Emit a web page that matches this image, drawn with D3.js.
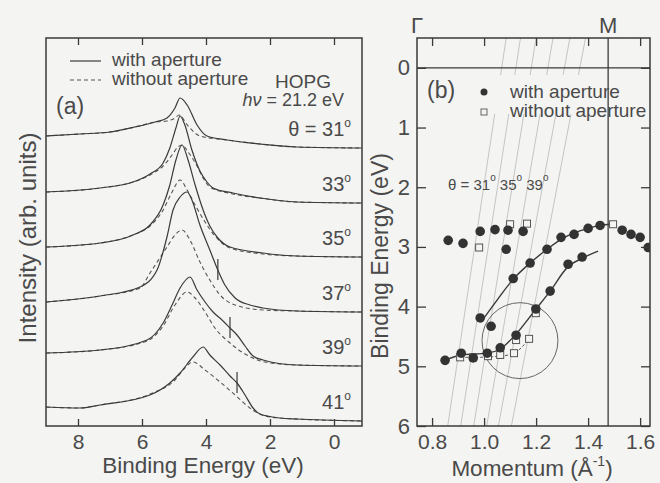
<!DOCTYPE html>
<html><head><meta charset="utf-8">
<script src="https://cdn.jsdelivr.net/npm/d3@7"></script>
<style>
body{margin:0;background:#f4f4f2;}
svg{display:block;}
text{font-family:"Liberation Sans",Arial,Helvetica,sans-serif;fill:#4a4a4a;}
</style></head><body>
<svg id="c" width="660" height="483"></svg>
<script>
// ---------- Panel (a): EDC spectra, [binding energy (eV), intensity (arb.)] ----------
const angles = ["31","33","35","37","39","41"];
const withAp31 = [[9.00,290],[7.94,292],[7.00,294],[6.22,299],[5.59,304],[5.22,308],[4.97,318],[4.81,328],[4.59,321],[4.28,301],[3.97,290],[3.34,286],[2.31,282],[1.16,279],[-0.87,278]];
const noAp31   = [[9.00,290],[7.94,292],[7.00,294],[6.22,299],[5.59,304],[5.22,305],[4.97,308],[4.84,311],[4.56,300],[4.19,290],[3.34,286],[2.31,282],[1.16,279],[-0.87,278]];
const withAp33 = [[9.00,234],[7.31,238],[6.28,244],[5.75,252],[5.34,263],[5.13,278],[4.94,298],[4.81,310],[4.66,301],[4.44,276],[4.19,255],[3.97,244],[3.78,238],[3.16,233],[2.31,228],[1.16,224],[-0.87,223]];
const noAp33   = [[9.00,234],[7.31,238],[6.28,244],[5.75,251],[5.34,260],[5.06,271],[4.88,279],[4.75,281],[4.56,274],[4.28,260],[4.09,248],[3.88,239],[3.16,232],[2.31,228],[1.16,224],[-0.87,223]];
const withAp35 = [[9.00,179],[7.31,183],[6.28,191],[5.75,201],[5.34,221],[5.13,241],[4.94,266],[4.75,281],[4.56,266],[4.34,241],[4.09,216],[3.88,200],[3.63,188],[3.25,179],[2.22,173],[1.16,170],[-0.87,169]];
const noAp35   = [[9.00,179],[7.31,183],[6.28,191],[5.75,200],[5.34,216],[5.06,234],[4.81,246],[4.59,236],[4.34,221],[4.03,204],[3.72,190],[3.25,178],[2.22,172],[1.16,170],[-0.87,169]];
const withAp37 = [[9.00,124],[7.31,130],[6.06,139],[5.53,156],[5.22,189],[5.03,216],[4.81,229],[4.59,234],[4.44,226],[4.19,201],[3.88,176],[3.63,156],[3.41,141],[3.09,128],[2.63,121],[2.22,118],[1.16,115],[-0.87,114]];
const noAp37   = [[9.00,124],[7.31,130],[6.06,138],[5.75,153],[5.22,179],[4.97,191],[4.75,196],[4.50,186],[4.19,164],[3.88,146],[3.56,131],[3.09,121],[2.22,116],[1.16,115],[-0.87,114]];
const withAp39 = [[9.00,73],[7.31,76],[5.84,86],[5.34,103],[5.06,121],[4.81,138],[4.50,149],[4.28,136],[4.03,124],[3.78,114],[3.50,106],[3.25,98],[3.03,91],[2.78,80],[2.53,70],[2.22,66],[1.16,61],[-0.87,60]];
const noAp39   = [[9.00,73],[7.31,76],[5.84,85],[5.34,100],[4.97,121],[4.59,134],[4.34,128],[4.03,114],[3.72,98],[3.25,83],[2.78,72],[2.16,64],[1.16,61],[-0.87,60]];
const withAp41 = [[9.00,19],[7.94,18],[7.31,21],[5.75,31],[5.13,43],[4.81,53],[4.41,69],[4.09,79],[3.88,71],[3.56,61],[3.25,50],[3.03,43],[2.78,31],[2.53,18],[2.31,12],[1.69,8],[1.16,7],[-0.87,5]];
const noAp41   = [[9.00,19],[7.94,18],[7.31,21],[5.75,32],[4.97,46],[4.66,58],[4.41,64],[4.03,56],[3.56,44],[3.09,31],[2.63,18],[2.25,11],[1.69,8],[-0.87,5]];
const withApSpectra = [withAp31, withAp33, withAp35, withAp37, withAp39, withAp41];
const noApSpectra   = [noAp31, noAp33, noAp35, noAp37, noAp39, noAp41];
const kinkMarks = [[3.63,156],[3.25,98],[3.03,43]];   // vertical bars on 37°,39°,41°
const beTicks = [8,6,4,2,0];

// ---------- Panel (b): band dispersion, [momentum (1/Å), binding energy (eV)] ----------
const withApPts = [[0.862,2.89],[0.919,2.94],[0.985,2.74],[1.042,2.71],[1.092,2.72],[1.150,2.74],[1.085,3.04],
  [0.985,4.19],[1.027,4.33],[1.112,3.53],[1.177,3.27],[1.242,3.04],[1.296,2.84],[1.346,2.79],[1.400,2.69],[1.446,2.64],[1.531,2.72],[1.565,2.79],[1.600,2.84],[1.631,3.01],
  [1.199,4.04],[1.254,3.74],[1.323,3.29],[1.377,3.17],[1.123,4.48],[1.062,4.69],
  [0.850,4.90],[0.912,4.78],[0.958,4.86],[1.012,4.78]];
const noApPts = [[0.981,3.01],[1.100,2.62],[1.165,2.61],[1.496,2.62],[1.199,4.11],[1.123,4.56],[1.173,4.54],[0.908,4.85],[0.958,4.85],[1.015,4.83],[1.062,4.81],[1.115,4.78]];
const fitUpper = [[0.988,4.26],[1.05,3.89],[1.112,3.54],[1.177,3.27],[1.242,3.04],[1.30,2.86],[1.35,2.76],[1.40,2.69],[1.446,2.64],[1.49,2.62]];
const fitLower = [[0.85,4.90],[0.912,4.81],[1.012,4.78],[1.062,4.71],[1.123,4.46],[1.196,4.06],[1.254,3.74],[1.323,3.33],[1.377,3.19],[1.438,3.07]];
const fitNoAp  = [[0.908,4.85],[0.958,4.85],[1.062,4.83],[1.115,4.78],[1.173,4.54]];
const thetaLines = [31,33,35,37,39,41];
const thetaKTop = [1.085,1.14,1.20,1.265,1.33,1.39];     // k at EB = -0.5
const thetaKBottom = [0.86,0.91,0.96,1.01,1.055,1.105];  // k at EB = 6
const kM = 1.477;
const circleCenter = [1.138,4.57], circleRadiusK = 0.146;
const kTicks = [0.8,1.0,1.2,1.4,1.6];
const ebTicks = [0,1,2,3,4,5,6];

// ---------- drawing ----------
const svg = d3.select("#c");
svg.append("rect").attr("width",660).attr("height",483).attr("fill","#f4f4f2");
const ink = "#3a3a3a";

// ===== Panel A =====
const A = {l:46, r:362, t:38, b:426};
const xA = d3.scaleLinear().domain([9, -0.875]).range([A.l, A.r]);
const yA = d3.scaleLinear().domain([0, 388]).range([A.b, A.t]);
svg.append("clipPath").attr("id","clipA").append("rect").attr("x",A.l).attr("y",A.t).attr("width",A.r-A.l).attr("height",A.b-A.t);
const gA = svg.append("g");
const lineA = d3.line().x(d=>xA(d[0])).y(d=>yA(d[1])).curve(d3.curveMonotoneX);
const gSpec = gA.append("g").attr("clip-path","url(#clipA)");
noApSpectra.forEach(s=>{
  gSpec.append("path").attr("d",lineA(s)).attr("fill","none").attr("stroke","#555").attr("stroke-width",1.1).attr("stroke-dasharray","4,3");
});
withApSpectra.forEach(s=>{
  gSpec.append("path").attr("d",lineA(s)).attr("fill","none").attr("stroke",ink).attr("stroke-width",1.2);
});
kinkMarks.forEach(m=>{
  gSpec.append("line").attr("x1",xA(m[0])).attr("x2",xA(m[0])).attr("y1",yA(m[1])-11).attr("y2",yA(m[1])+10).attr("stroke",ink).attr("stroke-width",1.2);
});
// axes
const axA = gA.append("g").attr("transform",`translate(0,${A.b})`).call(d3.axisBottom(xA).tickValues(beTicks).tickSize(-7).tickPadding(8).tickFormat(d3.format("d")));
const axAt = gA.append("g").attr("transform",`translate(0,${A.t})`).call(d3.axisTop(xA).tickValues(beTicks).tickSize(-7).tickFormat(""));
[axA,axAt].forEach(a=>{a.select(".domain").remove(); a.selectAll("line").attr("stroke",ink).attr("stroke-width",1.3);});
axA.selectAll("text").style("font-size","21px").attr("fill","#4a4a4a");
gA.append("rect").attr("x",A.l).attr("y",A.t).attr("width",A.r-A.l).attr("height",A.b-A.t).attr("fill","none").attr("stroke",ink).attr("stroke-width",1.5);
// angle labels
withApSpectra.forEach((s,i)=>{
  const t = gA.append("text").attr("x",351).attr("y",yA(s[s.length-1][1])-12).attr("text-anchor","end").style("font-size","20px");
  if(i===0) t.append("tspan").text("θ = ");
  t.append("tspan").text(angles[i]);
  t.append("tspan").attr("dy",-9).style("font-size","12px").text("o");
});
// legend & annotations
gA.append("line").attr("x1",70).attr("x2",101).attr("y1",61).attr("y2",61).attr("stroke",ink).attr("stroke-width",1.2);
gA.append("line").attr("x1",70).attr("x2",101).attr("y1",80).attr("y2",80).attr("stroke","#555").attr("stroke-width",1.1).attr("stroke-dasharray","4,3");
gA.append("text").attr("x",112).attr("y",66).style("font-size","19px").text("with aperture");
gA.append("text").attr("x",112).attr("y",85).style("font-size","19px").text("without aperture");
gA.append("text").attr("x",275).attr("y",88).style("font-size","19px").text("HOPG");
const hv = gA.append("text").attr("x",344).attr("y",106).attr("text-anchor","end").style("font-size","18px");
hv.append("tspan").style("font-style","italic").text("hν");
hv.append("tspan").text(" = 21.2 eV");
gA.append("text").attr("x",56).attr("y",114).style("font-size","23px").text("(a)");
gA.append("text").attr("transform","translate(36,238) rotate(-90)").attr("text-anchor","middle").style("font-size","24px").text("Intensity (arb. units)");
gA.append("text").attr("x",203).attr("y",473).attr("text-anchor","middle").style("font-size","22.5px").text("Binding Energy (eV)");

// ===== Panel B =====
const B = {l:417, r:650, t:38, b:426};
const xB = d3.scaleLinear().domain([0.742,1.638]).range([B.l,B.r]);
const yB = d3.scaleLinear().domain([-0.5,6]).range([B.t,B.b]);
svg.append("clipPath").attr("id","clipB").append("rect").attr("x",B.l).attr("y",B.t).attr("width",B.r-B.l).attr("height",B.b-B.t);
const gB = svg.append("g");
const gBc = gB.append("g").attr("clip-path","url(#clipB)");
thetaLines.forEach((th,i)=>{
  gBc.append("line").attr("x1",xB(thetaKTop[i])).attr("y1",yB(-0.5)).attr("x2",xB(thetaKBottom[i])).attr("y2",yB(6))
    .attr("stroke","#c4c4c4").attr("stroke-width",1);
});
// legend background
gBc.append("rect").attr("x",476).attr("y",75).attr("width",172).attr("height",39).attr("fill","#f4f4f2");
gBc.append("line").attr("x1",B.l).attr("x2",B.r).attr("y1",yB(0)).attr("y2",yB(0)).attr("stroke",ink).attr("stroke-width",1.3);
gBc.append("line").attr("x1",xB(kM)).attr("x2",xB(kM)).attr("y1",B.t).attr("y2",B.b).attr("stroke",ink).attr("stroke-width",1.3);
gBc.append("circle").attr("cx",xB(circleCenter[0])).attr("cy",yB(circleCenter[1])).attr("r",xB(circleCenter[0]+circleRadiusK)-xB(circleCenter[0]))
  .attr("fill","none").attr("stroke","#666").attr("stroke-width",1);
const lineB = d3.line().x(d=>xB(d[0])).y(d=>yB(d[1])).curve(d3.curveMonotoneX);
gBc.append("path").attr("d",lineB(fitUpper)).attr("fill","none").attr("stroke",ink).attr("stroke-width",1.4);
gBc.append("path").attr("d",lineB(fitLower)).attr("fill","none").attr("stroke",ink).attr("stroke-width",1.4);
gBc.append("path").attr("d",lineB(fitNoAp)).attr("fill","none").attr("stroke","#555").attr("stroke-width",1).attr("stroke-dasharray","3,2");
gBc.selectAll(".sq").data(noApPts).enter().append("rect")
  .attr("x",d=>xB(d[0])-3.5).attr("y",d=>yB(d[1])-3.5).attr("width",7).attr("height",7)
  .attr("fill","#f4f4f2").attr("stroke","#555").attr("stroke-width",1);
gBc.selectAll(".dot").data(withApPts).enter().append("circle")
  .attr("cx",d=>xB(d[0])).attr("cy",d=>yB(d[1])).attr("r",4.8).attr("fill","#333");
// axes
const axBb = gB.append("g").attr("transform",`translate(0,${B.b})`).call(d3.axisBottom(xB).tickValues(kTicks).tickSize(-8).tickPadding(8).tickFormat(d3.format(".1f")));
const axBt = gB.append("g").attr("transform",`translate(0,${B.t})`).call(d3.axisTop(xB).tickValues(kTicks).tickSize(-8).tickFormat(""));
const axBl = gB.append("g").attr("transform",`translate(${B.l},0)`).call(d3.axisLeft(yB).tickValues(ebTicks).tickSize(-9).tickPadding(7).tickFormat(d3.format("d")));
const axBr = gB.append("g").attr("transform",`translate(${B.r},0)`).call(d3.axisRight(yB).tickValues(ebTicks).tickSize(-9).tickFormat(""));
[axBb,axBt,axBl,axBr].forEach(a=>{a.select(".domain").remove(); a.selectAll("line").attr("stroke",ink).attr("stroke-width",1.3);});
axBb.selectAll("text").style("font-size","21px").attr("fill","#4a4a4a");
axBl.selectAll("text").style("font-size","22px").attr("fill","#4a4a4a");
gB.append("rect").attr("x",B.l).attr("y",B.t).attr("width",B.r-B.l).attr("height",B.b-B.t).attr("fill","none").attr("stroke",ink).attr("stroke-width",1.5);
// labels
gB.append("text").attr("x",B.l).attr("y",33).attr("text-anchor","middle").style("font-size","22px").text("Γ");
gB.append("text").attr("x",xB(kM)).attr("y",33).attr("text-anchor","middle").style("font-size","22px").text("M");
gB.append("text").attr("x",427).attr("y",98).style("font-size","23px").text("(b)");
gB.append("circle").attr("cx",484).attr("cy",92).attr("r",3.5).attr("fill","#333");
gB.append("rect").attr("x",481).attr("y",109).attr("width",6).attr("height",6).attr("fill","none").attr("stroke","#666").attr("stroke-width",1);
gB.append("text").attr("x",510).attr("y",98).style("font-size","19px").text("with aperture");
gB.append("text").attr("x",510).attr("y",117).style("font-size","19px").text("without aperture");
const thl = gB.append("text").attr("x",448).attr("y",190).style("font-size","15px").attr("fill","#666");
thl.append("tspan").text("θ = ");
[31,35,39].forEach((v,i)=>{
  thl.append("tspan").attr("dy", i===0?0:9).text((i? " ":"")+v);
  thl.append("tspan").attr("dy",-9).style("font-size","10px").text("o");
});
gB.append("text").attr("transform","translate(388,256) rotate(-90)").attr("text-anchor","middle").style("font-size","23px").text("Binding Energy (eV)");
const mom = gB.append("text").attr("x",532).attr("y",476).attr("text-anchor","middle").style("font-size","22.5px");
mom.append("tspan").text("Momentum (Å");
mom.append("tspan").attr("dy",-10).style("font-size","14px").text("-1");
mom.append("tspan").attr("dy",10).text(")");
</script>
</body></html>
